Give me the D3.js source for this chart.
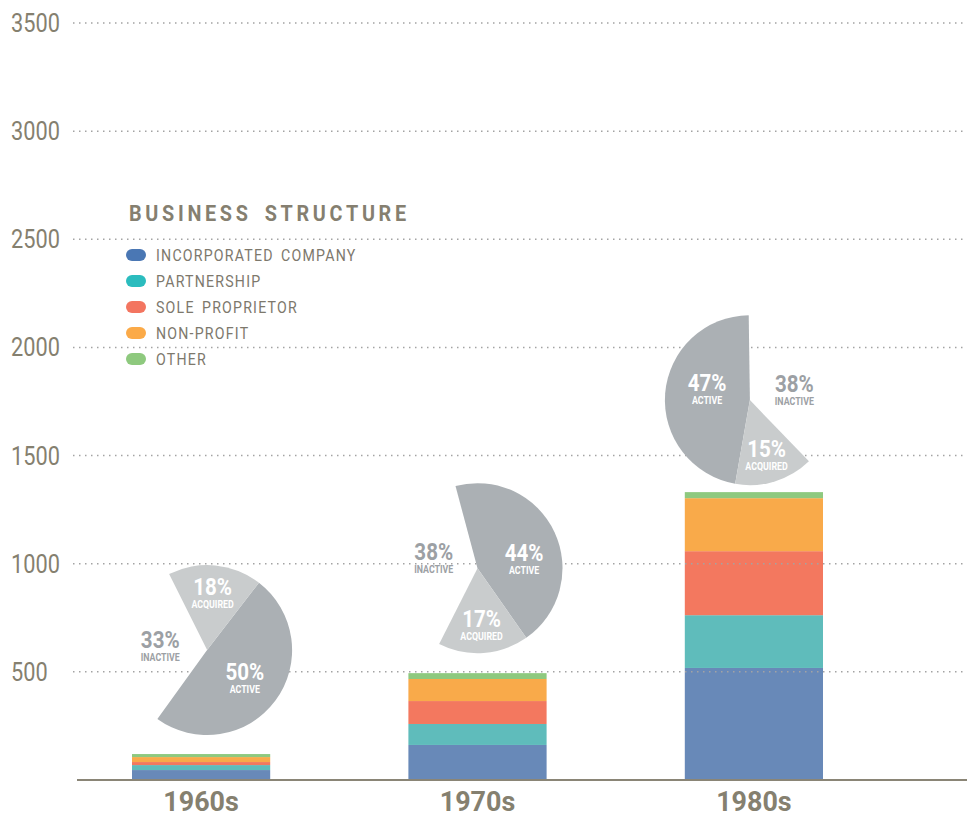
<!doctype html>
<html>
<head>
<meta charset="utf-8">
<script src="https://cdn.jsdelivr.net/npm/d3@7"></script>
<style>
  body { margin: 0; background: #fff; }
  svg text { font-family: Roboto, "Liberation Sans", sans-serif; }
</style>
</head>
<body>
<svg id="chart" width="967" height="816"></svg>
<script>
// data
const decades = ["1960s", "1970s", "1980s"];
const structures = ["INCORPORATED COMPANY", "PARTNERSHIP", "SOLE PROPRIETOR", "NON-PROFIT", "OTHER"];
const incorporated = [46, 162, 518];
const partnership = [23, 97, 244];
const soleProprietor = [14, 106, 296];
const nonProfit = [23, 102, 245];
const other = [14, 27, 28];
const yTicks = [500, 1000, 1500, 2000, 2500, 3000, 3500];

const pctActive = [50, 44, 47];
const pctInactive = [33, 38, 38];
const pctAcquired = [18, 17, 15];

// colours
const legendColors = ["#4a77b4", "#2bbcbe", "#f37560", "#fbaa48", "#8ec97e"];
const barColors = ["#6889b8", "#5fbcbb", "#f3785f", "#f9aa4a", "#8ec97f"];
const sliceFill = {ACTIVE: "#abb0b4", ACQUIRED: "#c9cccd", INACTIVE: "none"};
const sliceText = {ACTIVE: "#fff", ACQUIRED: "#fff", INACTIVE: "#9ca0a4"};

// pie layout per decade: slice order clockwise, start angle (deg), offset from bar top, label nudges
const pieLayout = [
  {order: ["ACTIVE", "INACTIVE", "ACQUIRED"], start: 37.6, dx: 6, dy: -104, nudge: {}},
  {order: ["ACTIVE", "ACQUIRED", "INACTIVE"], start: 345, dx: 0, dy: -105,
    nudge: {ACTIVE: [4, 11], INACTIVE: [3, -5]}},
  {order: ["ACTIVE", "INACTIVE", "ACQUIRED"], start: 190, dx: -4, dy: -92,
    nudge: {ACTIVE: [4, -7], INACTIVE: [1, 8]}}
];

const W = 967, H = 816;
const svg = d3.select("#chart");
const axisColor = "#8a8576";

// horizontally squeeze text to mimic the condensed face of the original
function squeeze(sel, sx) {
  sel.each(function () {
    const t = d3.select(this);
    const tx = +t.attr("x") || 0, ty = +t.attr("y") || 0;
    t.attr("x", 0).attr("y", 0)
      .attr("transform", `translate(${tx},${ty}) scale(${sx},1)`);
  });
}

const y = d3.scaleLinear().domain([0, 3500]).range([780, 23]);
const x = d3.scaleBand().domain(decades).range([132, 823]).paddingInner(0.5).paddingOuter(0);

const table = decades.map((d, i) => ({
  decade: d,
  "INCORPORATED COMPANY": incorporated[i],
  "PARTNERSHIP": partnership[i],
  "SOLE PROPRIETOR": soleProprietor[i],
  "NON-PROFIT": nonProfit[i],
  "OTHER": other[i]
}));
const series = d3.stack().keys(structures)(table);

// bars
svg.append("g").selectAll("g")
  .data(series).join("g")
  .attr("fill", (s, i) => barColors[i])
  .selectAll("rect")
  .data(s => s).join("rect")
  .attr("x", d => x(d.data.decade))
  .attr("width", x.bandwidth())
  .attr("y", d => y(d[1]))
  .attr("height", d => y(d[0]) - y(d[1]));

// dotted gridlines
const grid = svg.append("g");
grid.selectAll("line").data(yTicks).join("line")
  .attr("x1", 73).attr("x2", W)
  .attr("y1", d => y(d)).attr("y2", d => y(d))
  .attr("stroke", "#a3a3a3")
  .attr("stroke-width", 1.5)
  .attr("stroke-dasharray", "1.5,4.5");

grid.selectAll("text").data(yTicks).join("text")
  .attr("x", 11).attr("y", d => y(d) + 9)
  .attr("font-size", 25)
  .attr("fill", "#85806f")
  .text(d => d)
  .call(squeeze, 0.87);

// baseline
svg.append("line")
  .attr("x1", 77).attr("x2", W)
  .attr("y1", y(0)).attr("y2", y(0))
  .attr("stroke", axisColor).attr("stroke-width", 2);

// decade labels
svg.append("g").selectAll("text").data(decades).join("text")
  .attr("x", d => x(d) + x.bandwidth() / 2)
  .attr("y", 811)
  .attr("text-anchor", "middle")
  .attr("font-size", 28)
  .attr("font-weight", "bold")
  .attr("fill", "#85806f")
  .text(d => d)
  .call(squeeze, 0.96);

// pies
const totals = table.map(r => d3.sum(structures, k => r[k]));
const arc = d3.arc().innerRadius(0).outerRadius(85);
const rad = Math.PI / 180;

decades.forEach((dec, i) => {
  const L = pieLayout[i];
  const pct = {ACTIVE: pctActive[i], INACTIVE: pctInactive[i], ACQUIRED: pctAcquired[i]};
  const slices = L.order.map(k => ({status: k, value: pct[k]}));
  const arcs = d3.pie().sort(null).value(d => d.value)
    .startAngle(L.start * rad).endAngle(L.start * rad + 2 * Math.PI)(slices);

  const g = svg.append("g")
    .attr("transform", `translate(${x(dec) + x.bandwidth() / 2 + L.dx},${y(totals[i]) + L.dy})`);

  g.selectAll("path").data(arcs).join("path")
    .attr("d", arc)
    .attr("fill", d => sliceFill[d.data.status]);

  const lab = g.selectAll("g.lab").data(arcs).join("g")
    .attr("class", "lab")
    .attr("transform", d => {
      const m = (d.startAngle + d.endAngle) / 2;
      const r = d.data.status === "ACQUIRED" ? 57 : 47;
      const n = L.nudge[d.data.status] || [0, 0];
      return `translate(${Math.sin(m) * r + n[0]},${-Math.cos(m) * r + n[1]})`;
    });
  lab.append("text")
    .attr("y", 2)
    .attr("text-anchor", "middle")
    .attr("font-size", 24.5)
    .attr("font-weight", "bold")
    .attr("fill", d => sliceText[d.data.status])
    .text(d => d.data.value + "%")
    .call(squeeze, 0.84);
  lab.append("text")
    .attr("y", 15)
    .attr("text-anchor", "middle")
    .attr("font-size", 10.5)
    .attr("font-weight", "bold")
    .attr("fill", d => sliceText[d.data.status])
    .text(d => d.data.status)
    .call(squeeze, 0.84);
});

// legend
const legend = svg.append("g").attr("transform", "translate(126,0)");
legend.append("text")
  .attr("x", 3).attr("y", 221)
  .attr("font-size", 22)
  .attr("font-weight", "bold")
  .attr("letter-spacing", 4.1)
  .attr("word-spacing", 5)
  .attr("fill", "#857f70")
  .text("BUSINESS STRUCTURE")
  .call(squeeze, 0.9);

const items = legend.selectAll("g.item").data(structures).join("g")
  .attr("class", "item")
  .attr("transform", (d, i) => `translate(0,${255 + i * 26})`);
items.append("rect")
  .attr("x", 0).attr("y", -6)
  .attr("width", 20).attr("height", 12)
  .attr("rx", 6)
  .attr("fill", (d, i) => legendColors[i]);
items.append("text")
  .attr("x", 30).attr("y", 6)
  .attr("font-size", 16.5)
  .attr("letter-spacing", 1.4)
  .attr("word-spacing", 3)
  .attr("fill", "#7d786c")
  .text(d => d)
  .call(squeeze, 0.86);
</script>
</body>
</html>
